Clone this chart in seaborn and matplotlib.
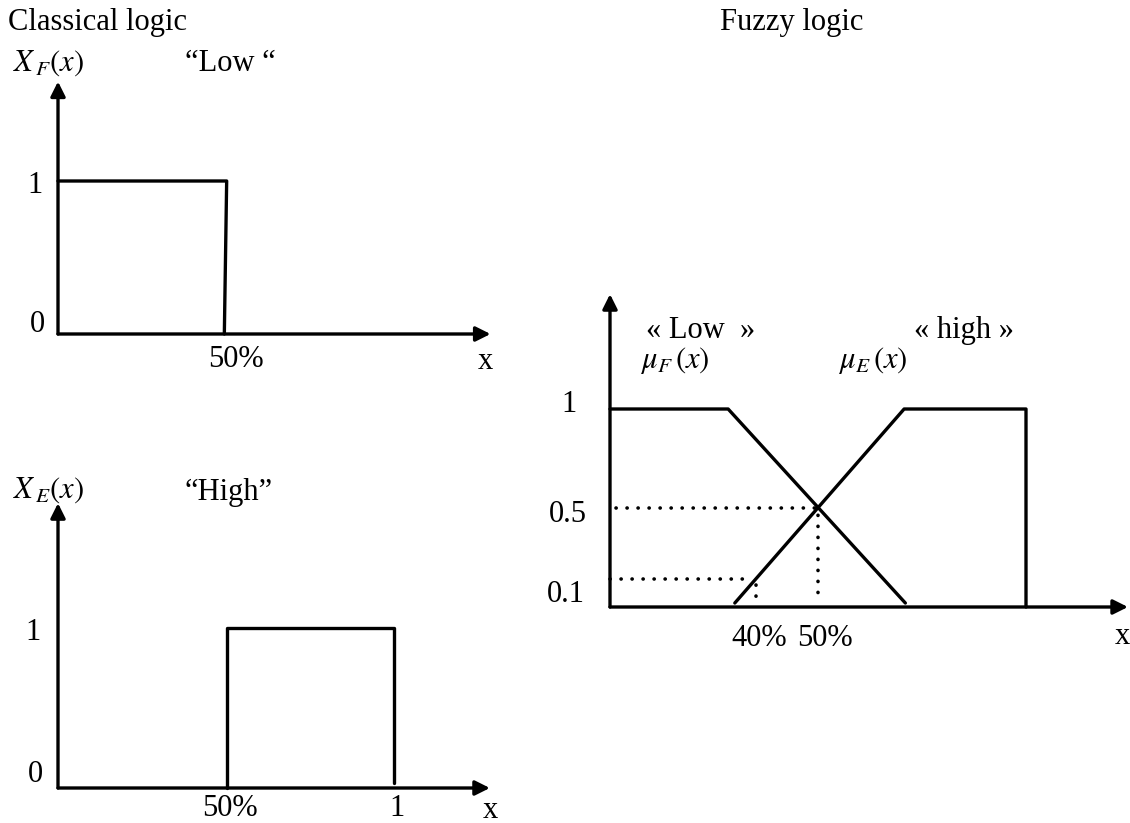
import matplotlib
matplotlib.use("Agg")
import matplotlib.pyplot as plt
import seaborn as sns

W, H = 1130, 823

# classical logic "Low" : x in %, membership
low_x = [0, 50.5, 49.8]
low_y = [1, 1, 0]
# classical logic "High"
high_x = [50.6, 50.6, 100.6, 100.6]
high_y = [0, 1, 1, 0.03]
# fuzzy logic, low and high membership
fz_low_x = [0, 28.4, 71]
fz_low_y = [1, 1, 0.02]
fz_high_x = [30, 70.7, 100, 100]
fz_high_y = [0.02, 1, 1, 0]
# dotted guide lines (fuzzy)
g05_x = [1.5, 50, 50]
g05_y = [0.5, 0.5, 0.02]
g01_x = [0, 33.5]
g01_y = [0.14, 0.14]
g40_x = [35, 35]
g40_y = [0.11, 0.02]

sns.set_theme(style="white")
plt.rcParams["font.family"] = ["Liberation Serif", "DejaVu Serif"]
plt.rcParams["mathtext.fontset"] = "stix"
FS = 22
LW = 2.4

fig = plt.figure(figsize=(W / 100, H / 100), dpi=100)


def panel(x0, y0, sx, sy, xlim, ylim):
    # axes whose data (0,0) lands on pixel (x0, y0)
    left = x0 + sx * xlim[0]
    right = x0 + sx * xlim[1]
    bottom = y0 - sy * ylim[0]
    top = y0 - sy * ylim[1]
    ax = fig.add_axes([left / W, 1 - bottom / H, (right - left) / W, (bottom - top) / H])
    ax.set_xlim(xlim)
    ax.set_ylim(ylim)
    ax.axis("off")
    ax.px = lambda px, py: ((px - x0) / sx, (y0 - py) / sy)
    return ax


def put(ax, px, py, s, ha="center"):
    x, y = ax.px(px, py)
    ax.text(x, y, s, ha=ha, va="center", fontsize=FS, color="black")


def arrows(ax, xtip, ytip):
    ap = dict(arrowstyle="-|>", color="black", lw=LW, mutation_scale=22,
              shrinkA=0, shrinkB=0)
    ax.annotate("", xy=(xtip, 0), xytext=(0, 0), arrowprops=ap)
    ax.annotate("", xy=(0, ytip), xytext=(0, 0), arrowprops=ap)


def curve(ax, xs, ys, dotted=False):
    if dotted:
        sns.lineplot(x=xs, y=ys, sort=False, estimator=None, color="black", lw=2.6,
                     linestyle=(0, (0.05, 3.0)), dash_capstyle="round", ax=ax)
    else:
        sns.lineplot(x=xs, y=ys, sort=False, estimator=None, color="black", lw=LW,
                     ax=ax)


# ---- classical logic, Low
ax1 = panel(58, 334, 3.34, 153, (-17, 135), (-0.3, 1.75))
curve(ax1, low_x, low_y)
arrows(ax1, 129.5, 1.65)
put(ax1, 8, 22, "Classical logic", ha="left")
put(ax1, 13, 63, r"$X_{\,F}(x)$", ha="left")
put(ax1, 185, 63, "\u201cLow \u201c", ha="left")
put(ax1, 35, 185, "1")
put(ax1, 37, 324, "0")
put(ax1, 236, 359, "50%")
put(ax1, 485, 361, "x")

# ---- classical logic, High
ax2 = panel(58, 788, 3.34, 160, (-17, 135), (-0.2, 1.9))
curve(ax2, high_x, high_y)
arrows(ax2, 129.3, 1.78)
put(ax2, 13, 490, r"$X_{\,E}(x)$", ha="left")
put(ax2, 185, 492, "\u201cHigh\u201d", ha="left")
put(ax2, 33, 632, "1")
put(ax2, 35, 775, "0")
put(ax2, 230, 809, "50%")
put(ax2, 397, 809, "1")
put(ax2, 490, 810, "x")

# ---- fuzzy logic
ax3 = panel(610, 607, 4.16, 198, (-15, 125), (-0.3, 1.62))
curve(ax3, fz_low_x, fz_low_y)
curve(ax3, fz_high_x, fz_high_y)
curve(ax3, g05_x, g05_y, dotted=True)
curve(ax3, g01_x, g01_y, dotted=True)
curve(ax3, g40_x, g40_y, dotted=True)
arrows(ax3, 124.5, 1.58)
put(ax3, 720, 22, "Fuzzy logic", ha="left")
put(ax3, 646, 330, "\u00ab Low  \u00bb", ha="left")
put(ax3, 914, 330, "\u00ab high \u00bb", ha="left")
put(ax3, 640, 360, r"$\mu_F\,(x)$", ha="left")
put(ax3, 838, 360, r"$\mu_E\,(x)$", ha="left")
put(ax3, 569, 404, "1")
put(ax3, 568, 515, "0.5")
put(ax3, 566, 595, "0.1")
put(ax3, 759, 638, "40%")
put(ax3, 825, 638, "50%")
put(ax3, 1122, 637, "x")

fig.savefig("out.png", dpi=100)
